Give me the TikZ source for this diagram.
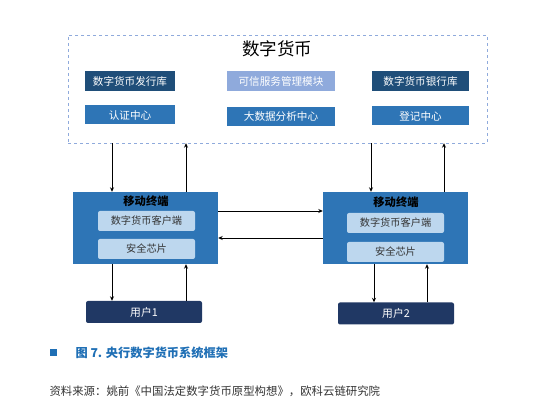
\documentclass[tikz,border=0pt]{standalone}
\usepackage{fontspec}
\setmainfont{Noto Sans CJK SC}
\usetikzlibrary{arrows.meta}
\tikzset{>={Stealth[length=4.5pt,width=4pt]}}
\definecolor{navy}{HTML}{1F4E79}
\definecolor{usernavy}{HTML}{203864}
\definecolor{midblue}{HTML}{2E75B6}
\definecolor{paleblue}{HTML}{8FAADC}
\definecolor{chipblue}{HTML}{BDD7EE}
\definecolor{capblue}{HTML}{1F6FB5}
\definecolor{srcgray}{HTML}{333333}

\begin{document}
\begin{tikzpicture}[x=1pt, y=-1pt,
		outer/.style={rectangle, draw=paleblue, dashed, thin, minimum width=419pt, minimum height=108pt},
		store/.style={rectangle, fill=navy, text=white, font=\fontsize{10.6}{11}\selectfont, minimum height=20pt, inner sep=0pt},
		trust/.style={rectangle, fill=paleblue, text=white, font=\fontsize{10.6}{11}\selectfont, minimum height=20pt, inner sep=0pt},
		center/.style={rectangle, fill=midblue, text=white, font=\fontsize{10.6}{11}\selectfont, minimum height=19pt, inner sep=0pt},
		terminal/.style={rectangle, fill=midblue, minimum width=145pt, minimum height=72pt, inner sep=0pt},
		chip/.style={rectangle, rounded corners=2pt, fill=chipblue, text=srcgray, font=\fontsize{10.2}{11}\selectfont, minimum width=97pt, minimum height=20pt, inner sep=0pt},
		user/.style={rectangle, rounded corners=2pt, fill=usernavy, text=white, font=\fontsize{10.8}{12}\selectfont, minimum width=116pt, minimum height=22pt, inner sep=0pt},
		link/.style={->, black, line width=0.9pt}]
		\useasboundingbox (0,0) rectangle (550,409);
		% digital currency system
		\node[outer] (dc) at (277.5,89) {};
		\node[font=\fontsize{17.5}{19}\selectfont] (title) at (277,49) {数字货币};
		\node[store, minimum width=90pt] (issue) at (130,81) {数字货币发行库};
		\node[trust, minimum width=108pt] (tsm) at (281,81) {可信服务管理模块};
		\node[store, minimum width=97pt] (bank) at (420.5,81) {数字货币银行库};
		\node[center, minimum width=90pt] (auth) at (130,115) {认证中心};
		\node[center, minimum width=108pt] (bigdata) at (281,116.5) {大数据分析中心};
		\node[center, minimum width=97pt] (reg) at (420.5,116) {登记中心};

		% mobile terminals
		\node[terminal] (t1) at (145.5,228) {};
		\node[font=\bfseries\fontsize{11.3}{12}\selectfont] (t1lab) at (146,201) {移动终端};
		\node[chip] (t1app) at (146.5,221) {数字货币客户端};
		\node[chip] (t1sec) at (146.5,249) {安全芯片};
		\node[terminal] (t2) at (395.5,228) {};
		\node[font=\bfseries\fontsize{11.3}{12}\selectfont] (t2lab) at (396,202) {移动终端};
		\node[chip] (t2app) at (395.5,223) {数字货币客户端};
		\node[chip] (t2sec) at (395.5,252) {安全芯片};

		% users
		\node[user] (u1) at (144,312) {用户1};
		\node[user] (u2) at (396,313.5) {用户2};

		\draw[link] (dc.south -| 112,0) -- (t1.north -| 112,0);
		\draw[link] (t1.north -| 186,0) -- (dc.south -| 186,0);
		\draw[link] (dc.south -| 371,0) -- (t2.north -| 371,0);
		\draw[link] (t2.north -| 444,0) -- (dc.south -| 444,0);
		\draw[link] (t1.east |- 0,211) -- (t2.west |- 0,211);
		\draw[link] (t2.west |- 0,238) -- (t1.east |- 0,238);
		\draw[link] (t1.south -| 112,0) -- (u1.north -| 112,0);
		\draw[link] (u1.north -| 186,0) -- (t1.south -| 186,0);
		\draw[link] (t2.south -| 374,0) -- (u2.north -| 374,0);
		\draw[link] (u2.north -| 427,0) -- (t2.south -| 427,0);

		% caption
		\node[fill=capblue, minimum size=7pt, inner sep=0pt] (mark) at (53,353) {};
		\node[anchor=west, text=capblue, font=\bfseries\fontsize{12.2}{14}\selectfont] (cap) at (72,353) {图 7. 央行数字货币系统框架};
		\node[anchor=west, text=srcgray, font=\fontsize{11.4}{13}\selectfont] (src) at (46,391) {资料来源：姚前《中国法定数字货币原型构想》，欧科云链研究院};
	\end{tikzpicture}
\end{document}
